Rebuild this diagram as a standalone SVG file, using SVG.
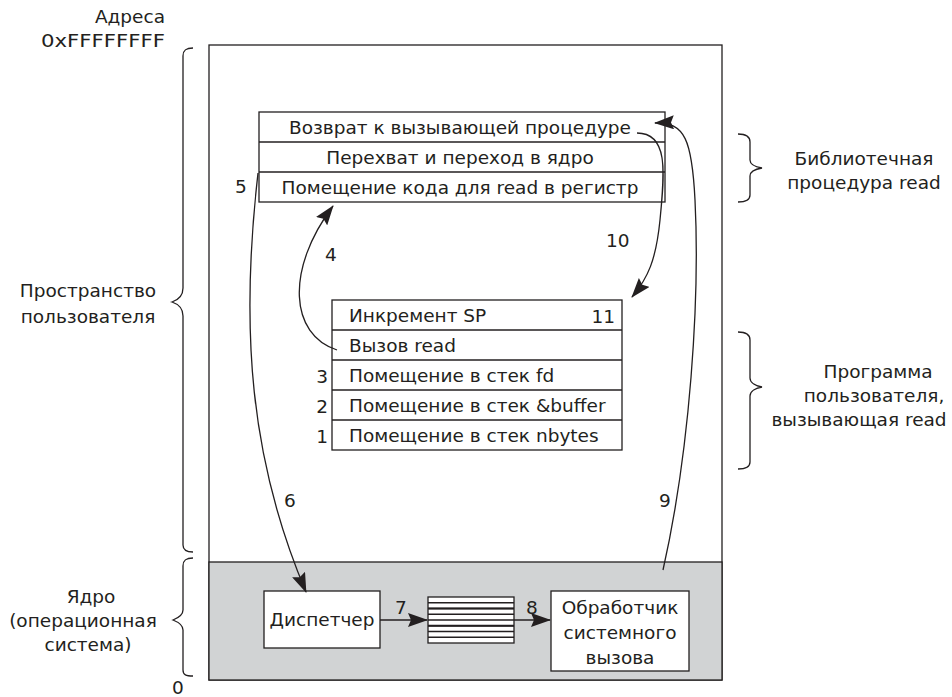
<svg xmlns="http://www.w3.org/2000/svg" width="952" height="697" viewBox="0 0 952 697">
<defs>
<style>
text{font-family:"DejaVu Sans","Liberation Sans",Arial,sans-serif;font-size:18.5px;fill:#231f20}
.box{fill:#fff;stroke:#231f20;stroke-width:1.3}
.ln{stroke:#231f20;stroke-width:1.3;fill:none}
.c{fill:none;stroke:#231f20;stroke-width:1.3}
.m{text-anchor:middle}
.e{text-anchor:end}
</style>
<marker id="ah" viewBox="0 0 20 14" refX="19" refY="7" markerWidth="20" markerHeight="14" markerUnits="userSpaceOnUse" orient="auto"><path d="M0,0 L20,7 L0,14 L3,7 z" fill="#231f20"/></marker>
</defs>
<rect width="952" height="697" fill="#fff"/>

<g id="memory">
<rect x="209" y="45" width="513" height="635" fill="#fff" stroke="#231f20" stroke-width="1.3"/>
<rect x="209" y="562" width="513" height="118" fill="#d1d3d4" stroke="#231f20" stroke-width="1.3"/>
</g>

<g id="library">
<rect class="box" x="259" y="112" width="406" height="90"/>
<line class="ln" x1="259" y1="142" x2="665" y2="142"/>
<line class="ln" x1="259" y1="172" x2="665" y2="172"/>
<text class="m" x="460" y="134">Возврат к вызывающей процедуре</text>
<text class="m" x="460" y="164">Перехват и переход в ядро</text>
<text class="m" x="460" y="194">Помещение кода для read в регистр</text>
</g>

<g id="userprog">
<rect class="box" x="332" y="300" width="290" height="150"/>
<line class="ln" x1="332" y1="330" x2="622" y2="330"/>
<line class="ln" x1="332" y1="360" x2="622" y2="360"/>
<line class="ln" x1="332" y1="390" x2="622" y2="390"/>
<line class="ln" x1="332" y1="420" x2="622" y2="420"/>
<text x="349" y="322">Инкремент SP</text>
<text x="349" y="352">Вызов read</text>
<text x="349" y="382">Помещение в стек fd</text>
<text x="349" y="412">Помещение в стек &amp;buffer</text>
<text x="349" y="442">Помещение в стек nbytes</text>
<text class="e" x="615" y="323">11</text>
<text class="e" x="328" y="383">3</text>
<text class="e" x="328" y="413">2</text>
<text class="e" x="328" y="443">1</text>
</g>

<g id="dispatcher">
<rect class="box" x="264" y="591" width="116" height="57"/>
<text class="m" x="322" y="626">Диспетчер</text>
</g>

<g id="table">
<rect class="box" x="428" y="597" width="86" height="46"/>
<path class="ln" d="M428,602.75H514M428,608.5H514M428,614.25H514M428,620H514M428,625.75H514M428,631.5H514M428,637.25H514"/>
<line x1="428" y1="608.5" x2="514" y2="608.5" stroke="#231f20" stroke-width="2"/>
<line x1="428" y1="625.75" x2="514" y2="625.75" stroke="#231f20" stroke-width="2"/>
</g>

<g id="handler">
<rect class="box" x="551" y="591" width="138" height="80"/>
<text class="m" x="620" y="614">Обработчик</text>
<text class="m" x="620" y="639">системного</text>
<text class="m" x="620" y="664">вызова</text>
</g>

<g id="connectors">
<path class="c" d="M337,350 C290,335 285,270 333,206" marker-end="url(#ah)"/>
<path class="c" d="M258,173 C240,330 250,460 306,592" marker-end="url(#ah)"/>
<path class="c" d="M380,620 L427,620" marker-end="url(#ah)"/>
<path class="c" d="M514,620 L550,620" marker-end="url(#ah)"/>
<path class="c" d="M663,570 C690,450 700,300 695,200 C692,140 685,122 655,123" marker-end="url(#ah)"/>
<path class="c" d="M637,133 C668,133 665,170 660,220 C656,260 648,278 632,297" marker-end="url(#ah)"/>
</g>

<g id="labels">
<text x="235" y="193">5</text>
<text x="325" y="261">4</text>
<text x="606" y="247">10</text>
<text x="284" y="507">6</text>
<text x="659" y="507">9</text>
<text x="395" y="614">7</text>
<text x="526" y="614">8</text>
</g>

<g id="braces">
<path class="c" d="M193,48 C186,48 183,50 183,56 L183,288 C183,296 178,300 172,302 C178,304 183,308 183,316 L183,545 C183,550 186,552 193,552"/>
<path class="c" d="M193,558 C186,558 183,560 183,566 L183,610 C183,615 178,618 173,620 C178,622 183,625 183,630 L183,670 C183,675 186,676 193,676"/>
<path class="c" d="M738,134 C745,134 750,136 750,142 L750,160 C750,165 756,167 762,168 C756,169 750,171 750,176 L750,195 C750,200 745,202 738,202"/>
<path class="c" d="M738,332 C745,332 750,334 750,340 L750,378 C750,383 756,386 762,387 C756,388 750,391 750,396 L750,462 C750,467 745,469 738,469"/>
</g>

<g id="side-text">
<text class="e" x="165" y="23">Адреса</text>
<text class="e" x="165" y="47" textLength="124" lengthAdjust="spacingAndGlyphs">0xFFFFFFFF</text>
<text class="m" x="88" y="297">Пространство</text>
<text class="m" x="88" y="323">пользователя</text>
<text class="m" x="91" y="603">Ядро</text>
<text class="m" x="83" y="627">(операционная</text>
<text class="m" x="88" y="651">система)</text>
<text x="172" y="694">0</text>
<text class="m" x="864" y="165">Библиотечная</text>
<text class="m" x="864" y="189">процедура read</text>
<text class="m" x="878" y="378">Программа</text>
<text class="m" x="874" y="402">пользователя,</text>
<text class="m" x="859" y="426">вызывающая read</text>
</g>
</svg>
